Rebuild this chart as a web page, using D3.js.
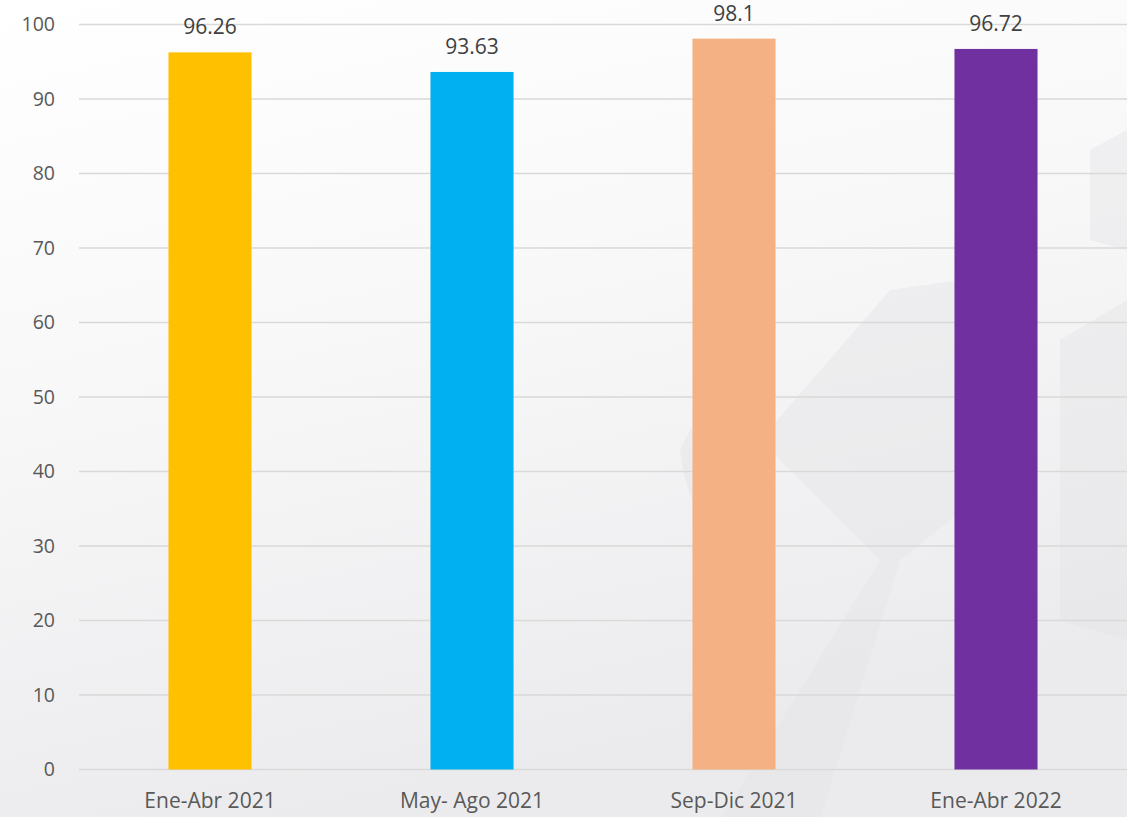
<!DOCTYPE html>
<html>
<head>
<meta charset="utf-8">
<script src="https://cdn.jsdelivr.net/npm/d3@7"></script>
<style>
  body { margin: 0; overflow: hidden; }
  svg { display: block; font-family: "Open Sans", sans-serif; }
</style>
</head>
<body>
<svg width="1127" height="817"></svg>
<script>
var categories = ["Ene-Abr 2021", "May- Ago 2021", "Sep-Dic 2021", "Ene-Abr 2022"];
var values = [96.26, 93.63, 98.1, 96.72];
var colors = ["#FFC000", "#00B0F0", "#F4B183", "#7030A0"];
var yTicks = [0, 10, 20, 30, 40, 50, 60, 70, 80, 90, 100];

var svg = d3.select("svg"),
    width = 1127,
    height = 817,
    plotLeft = 79,
    plotRight = 1127,
    plotTop = 24.5,
    plotBottom = 769.5;

// background
var defs = svg.append("defs");
var grad = defs.append("linearGradient").attr("id", "bg")
    .attr("x1", 0).attr("y1", 0).attr("x2", 0.3).attr("y2", 1);
grad.append("stop").attr("offset", "0%").attr("stop-color", "#ffffff");
grad.append("stop").attr("offset", "45%").attr("stop-color", "#f8f8f9");
grad.append("stop").attr("offset", "100%").attr("stop-color", "#ebebed");
svg.append("rect").attr("width", width).attr("height", height).attr("fill", "url(#bg)");

// faint watermark shapes
var deco = svg.append("g").attr("fill", "#e4e4e6").attr("opacity", 0.45);
deco.append("path").attr("d", "M890,290 L960,280 L1000,480 L900,560 L820,820 L720,820 L880,560 L760,440 Z");
deco.append("path").attr("d", "M1060,340 L1127,300 L1127,640 L1060,620 Z");
deco.append("path").attr("d", "M1090,150 L1127,130 L1127,250 L1090,240 Z");
deco.append("path").attr("d", "M680,450 Q700,400 760,380 L760,560 Q690,540 680,450 Z");

var x = d3.scaleBand()
    .domain(categories)
    .range([plotLeft, plotRight])
    .paddingInner(0.683)
    .paddingOuter(0.3415);

var y = d3.scaleLinear()
    .domain([0, 100])
    .range([plotBottom, plotTop]);

// gridlines
svg.append("g")
  .selectAll("line")
  .data(yTicks)
  .enter().append("line")
    .attr("x1", plotLeft)
    .attr("x2", plotRight)
    .attr("y1", function(d) { return y(d); })
    .attr("y2", function(d) { return y(d); })
    .attr("stroke", "#d9d9d9")
    .attr("stroke-width", 1.5);

// y axis
var yAxis = svg.append("g")
    .attr("transform", "translate(" + (plotLeft - 24) + ",0)")
    .call(d3.axisLeft(y).tickValues(yTicks).tickSize(0).tickPadding(0));
yAxis.select(".domain").remove();
yAxis.selectAll("text")
    .attr("font-size", 19.5)
    .attr("font-family", "Open Sans, sans-serif")
    .attr("fill", "#595959");

// bars
svg.append("g")
  .selectAll("rect")
  .data(values)
  .enter().append("rect")
    .attr("x", function(d, i) { return x(categories[i]); })
    .attr("y", function(d) { return y(d); })
    .attr("width", x.bandwidth())
    .attr("height", function(d) { return y(0) - y(d); })
    .attr("fill", function(d, i) { return colors[i]; });

// data labels
svg.append("g")
  .selectAll("text")
  .data(values)
  .enter().append("text")
    .attr("x", function(d, i) { return x(categories[i]) + x.bandwidth() / 2; })
    .attr("y", function(d) { return y(d) - 18; })
    .attr("text-anchor", "middle")
    .attr("font-size", 21)
    .attr("fill", "#404040")
    .text(function(d) { return d; });

// x axis
var xAxis = svg.append("g")
    .attr("transform", "translate(0," + plotBottom + ")")
    .call(d3.axisBottom(x).tickSize(0).tickPadding(24));
xAxis.select(".domain").remove();
xAxis.selectAll("text")
    .attr("font-size", 21)
    .attr("font-family", "Open Sans, sans-serif")
    .attr("fill", "#595959");
</script>
</body>
</html>
